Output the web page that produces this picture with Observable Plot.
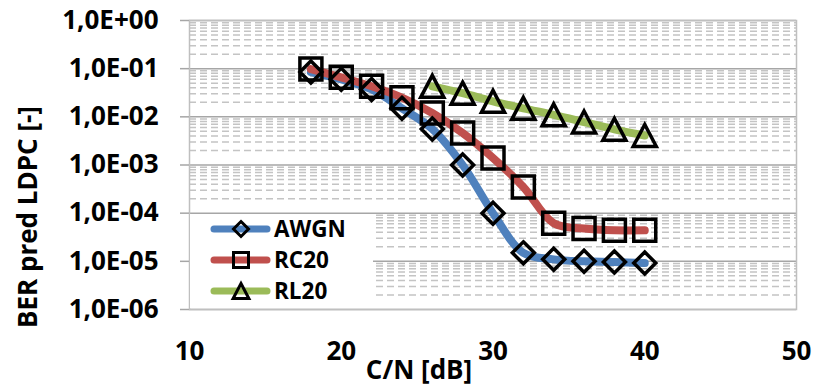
<!DOCTYPE html>
<html><head><meta charset="utf-8">
<script src="https://cdn.jsdelivr.net/npm/d3@7"></script>
<script src="https://cdn.jsdelivr.net/npm/@observablehq/plot@0.6"></script>
<style>
body{margin:0;background:#fff;}
#wrap{position:relative;width:815px;height:392px;font-family:"Open Sans",Lato,sans-serif;font-weight:700;color:#000;}
#legend{position:absolute;left:190px;top:214px;width:183px;height:94px;background:#fff;}
.row{position:absolute;left:0;height:30px;line-height:30px;display:flex;align-items:center;font-size:22.5px;}
.row svg{display:block;margin-left:20px;margin-right:3px;}
</style></head><body><div id="wrap"></div>
<script>
// ---- data ----
const cn = [18, 20, 22, 24, 26, 28, 30, 32, 34, 36, 38, 40];
const awgn = [0.085, 0.06, 0.037, 0.015, 0.0056, 0.001, 0.0001, 1.5e-5, 1.1e-5, 1.0e-5, 9.7e-6, 9.2e-6];
const rc20 = [0.098, 0.066, 0.043, 0.025, 0.012, 0.0046, 0.0014, 0.00035, 6.2e-5, 4.8e-5, 4.4e-5, 4.4e-5];
const cnRL = [26, 28, 30, 32, 34, 36, 38, 40];
const rl20 = [0.043, 0.031, 0.021, 0.015, 0.011, 0.0078, 0.0055, 0.0041];
const seriesNames = ["AWGN", "RC20", "RL20"];
const seriesColors = ["#4F81BD", "#C0504D", "#9BBB59"];
const xTicks = [10, 20, 30, 40, 50];
const yTicks = [1, 1e-1, 1e-2, 1e-3, 1e-4, 1e-5, 1e-6];
const yTickLabels = ["1,0E+00", "1,0E-01", "1,0E-02", "1,0E-03", "1,0E-04", "1,0E-05", "1,0E-06"];
const xLabel = "C/N [dB]";
const yLabel = "BER pred LDPC [-]";

// minor gridlines 2..9 per decade
const minor = [];
for (const d of yTicks.slice(1)) for (let k = 2; k <= 9; k++) minor.push(d * k);

// custom Excel-like marker symbols (bbox-centred)
const rOf = size => Math.sqrt(size / Math.PI);
const symDiamond = {draw(c, s){const r = rOf(s); c.moveTo(0,-r); c.lineTo(r,0); c.lineTo(0,r); c.lineTo(-r,0); c.closePath();}};
const symSquare = {draw(c, s){const r = rOf(s); c.moveTo(-r,-r); c.lineTo(r,-r); c.lineTo(r,r); c.lineTo(-r,r); c.closePath();}};
const symTri = {draw(c, s){const r = rOf(s); c.moveTo(0,-r); c.lineTo(r*1.05,r); c.lineTo(-r*1.05,r); c.closePath();}};
const symbols = [symDiamond, symSquare, symTri];

const sets = [
  cn.map((x, i) => ({x, y: awgn[i]})),
  cn.map((x, i) => ({x, y: rc20[i]})),
  cnRL.map((x, i) => ({x, y: rl20[i]}))
];

const fmtY = d => {
  let best = 0;
  yTicks.forEach((t, i) => { if (Math.abs(Math.log10(t) - Math.log10(d)) < Math.abs(Math.log10(yTicks[best]) - Math.log10(d))) best = i; });
  return yTickLabels[best];
};

const FONT = '"Open Sans", Lato, sans-serif';
const plot = Plot.plot({
  width: 815, height: 392,
  marginLeft: 189, marginRight: 19, marginTop: 20, marginBottom: 83,
  x: {domain: [10, 50]},
  y: {type: "log", domain: [1e-6, 1]},
  style: {fontFamily: FONT, fontWeight: 700, fontSize: "26px", color: "#000", background: "#fff"},
  marks: [
    Plot.ruleY(minor, {stroke: "#c4c4c4", strokeWidth: 1.5, strokeDasharray: "7,4"}),
    Plot.ruleY(yTicks, {stroke: "#a6a6a6", strokeWidth: 1.5}),
    Plot.frame({stroke: "#bfbfbf", strokeWidth: 1.5}),
    Plot.axisY({ticks: yTicks, tickFormat: fmtY, tickSize: 9, tickPadding: 22, stroke: "#a6a6a6", strokeWidth: 1.5, label: null, fontSize: 26, fill: "#000"}),
    Plot.axisX({ticks: xTicks, tickSize: 0, tickPadding: 32, label: null, fontSize: 26, fill: "#000"}),
    Plot.text([xLabel], {frameAnchor: "bottom", textAnchor: "middle", dx: -74, dy: 61, lineAnchor: "middle", fontSize: 26, fontWeight: 700, fill: "#000"}),
    Plot.text([yLabel], {frameAnchor: "left", textAnchor: "middle", rotate: -90, dx: -161, dy: 52, lineAnchor: "middle", fontSize: 26, fontWeight: 700, fill: "#000"}),
    ...sets.map((d, i) => Plot.line(d, {x: "x", y: "y", stroke: seriesColors[i], strokeWidth: 8, curve: "catmull-rom", strokeLinecap: "round", strokeLinejoin: "round"})),
    ...sets.map((d, i) => Plot.dot(d, {x: "x", y: "y", symbol: symbols[i], r: 11, fill: "none", stroke: "#000", strokeWidth: 3.5}))
  ]
});
const wrap = document.getElementById("wrap");
wrap.appendChild(plot);

// legend overlay
const legend = document.createElement("div");
legend.id = "legend";
const rowTops = [0, 31, 62];
seriesNames.forEach((name, i) => {
  const row = document.createElement("div");
  row.className = "row";
  row.style.top = rowTops[i] + "px";
  const svg = d3.create("svg").attr("width", 61).attr("height", 30);
  svg.append("line").attr("x1", 4).attr("x2", 57).attr("y1", 15).attr("y2", 15)
    .attr("stroke", seriesColors[i]).attr("stroke-width", 7).attr("stroke-linecap", "round");
  svg.append("path").attr("transform", "translate(31,15)")
    .attr("d", d3.symbol(symbols[i], Math.PI * 7.5 * 7.5)())
    .attr("fill", "none").attr("stroke", "#000").attr("stroke-width", 3);
  row.appendChild(svg.node());
  const t = document.createElement("span");
  t.textContent = name;
  row.appendChild(t);
  legend.appendChild(row);
});
wrap.appendChild(legend);
</script>
</body></html>
